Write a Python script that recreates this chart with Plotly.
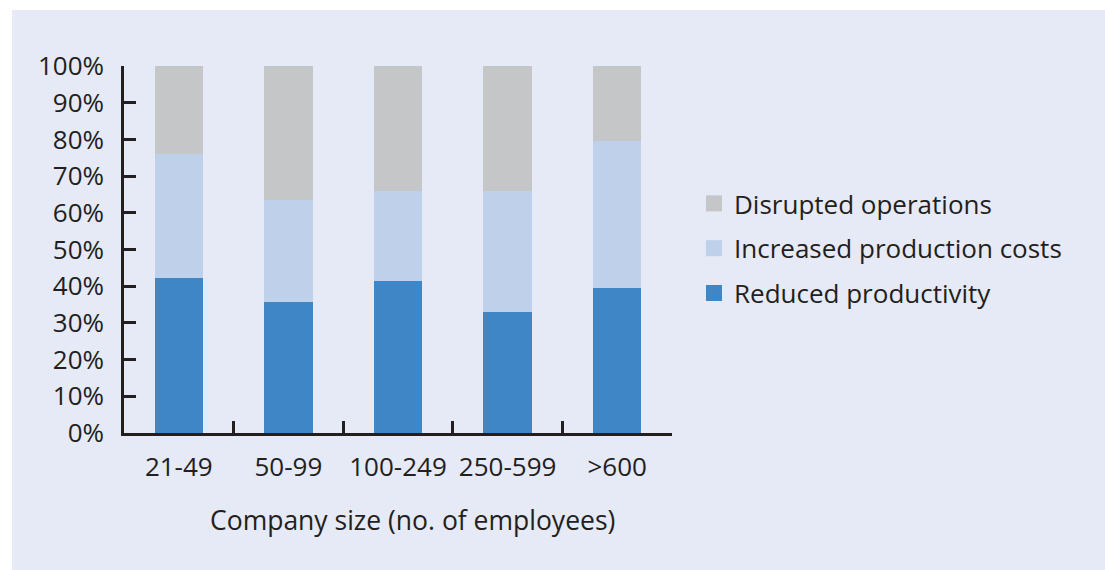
import plotly.graph_objects as go

categories = ["21-49", "50-99", "100-249", "250-599", ">600"]
reduced = [42.2, 35.6, 41.3, 33.0, 39.5]
increased = [33.7, 27.9, 24.6, 32.9, 40.1]
disrupted = [24.1, 36.5, 34.1, 34.1, 20.4]
series_names = ["Reduced productivity", "Increased production costs", "Disrupted operations"]
colors = ["#3e86c6", "#bfd0ea", "#c5c6c8"]
y_ticks = [0, 10, 20, 30, 40, 50, 60, 70, 80, 90, 100]
y_labels = [f"{v}%" for v in y_ticks]

FONT = "Open Sans"
TXT = "#231f20"
BG = "#e6e9f6"

fig = go.Figure()
for name, vals, col in zip(series_names, [reduced, increased, disrupted], colors):
    fig.add_trace(go.Bar(x=categories, y=vals, name=name, marker=dict(color=col, line=dict(width=0)),
                         showlegend=False))
# legend entries with larger square symbols (top to bottom: Disrupted, Increased, Reduced)
for name, col in reversed(list(zip(series_names, colors))):
    fig.add_trace(go.Scatter(x=[None], y=[None], mode="markers", name=name, legendgroup=name,
                             marker=dict(symbol="square", size=17, color=col), showlegend=True))

L, R, T, B = 124, 1105 - 672, 66, 570 - 433
pw, ph = 1105 - L - R, 570 - T - B

fig.update_layout(
    width=1105, height=570,
    barmode="stack", bargap=0.56,
    paper_bgcolor="white", plot_bgcolor=BG,
    margin=dict(l=L, r=R, t=T, b=B, pad=0),
    font=dict(family=FONT, size=26, color=TXT),
    showlegend=True,
    legend=dict(x=(694 - L) / pw, xanchor="left", y=(433 - 180) / ph, yanchor="top",
                bgcolor="rgba(0,0,0,0)", traceorder="grouped", tracegroupgap=8,
                font=dict(family=FONT, size=26, color=TXT), itemsizing="trace"),
    shapes=[dict(type="rect", xref="paper", yref="paper",
                 x0=(12 - L) / pw, x1=(1105 - L) / pw,
                 y0=-(B) / ph, y1=(433 - 10) / ph,
                 fillcolor=BG, line=dict(width=0), layer="below")],
    annotations=[dict(text="Company size (no. of employees)", xref="paper", yref="paper",
                      x=(412 - L) / pw, y=-(520 - 433) / ph, xanchor="center", yanchor="middle",
                      showarrow=False, font=dict(family=FONT, size=26.5, color=TXT))],
)
fig.update_yaxes(range=[0, 100], tickvals=y_ticks, ticktext=y_labels, ticks="inside", ticklen=12,
                 tickwidth=2.5, tickcolor=TXT, showline=True, linecolor=TXT, linewidth=2.5,
                 showgrid=False, zeroline=False, ticklabelstandoff=12,
                 tickfont=dict(family=FONT, size=26, color=TXT))
fig.update_xaxes(ticks="inside", tickson="boundaries", ticklen=12, tickwidth=2.5, tickcolor=TXT,
                 showline=True, linecolor=TXT, linewidth=2.5, showgrid=False,
                 ticklabelstandoff=9, tickfont=dict(family=FONT, size=26, color=TXT))

fig.write_html("out.html", config={"displayModeBar": False},
               post_script="document.body.style.margin='0';document.body.style.overflow='hidden';")
